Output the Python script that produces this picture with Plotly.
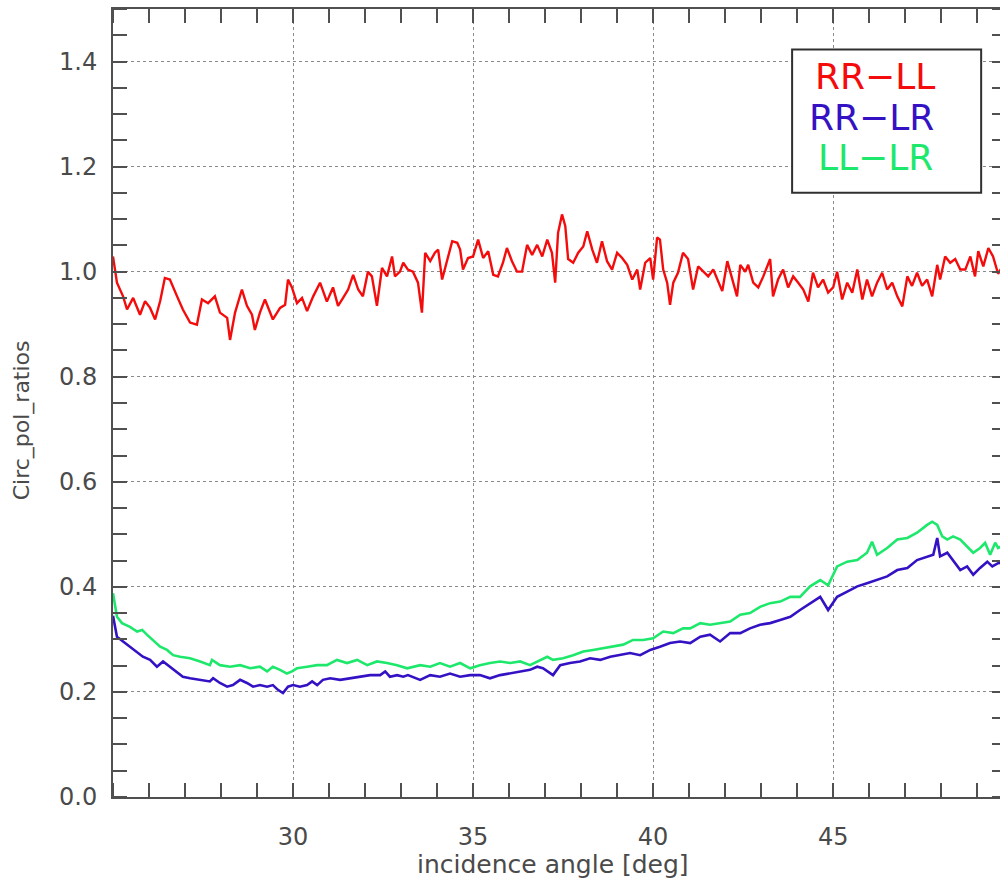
import plotly.graph_objects as go

# Incidence angle [deg] and circular-polarisation ratios for each channel pair
angle_rr_ll = [25.00, 25.11, 25.28, 25.39, 25.56, 25.75, 25.89, 26.03, 26.17, 26.31,
               26.44, 26.58, 26.78, 26.94, 27.14, 27.33, 27.47, 27.64, 27.83, 27.97,
               28.17, 28.25, 28.39, 28.58, 28.72, 28.86, 28.94, 29.08, 29.22, 29.36,
               29.44, 29.64, 29.78, 29.86, 29.97, 30.11, 30.25, 30.39, 30.56, 30.75,
               30.94, 31.11, 31.25, 31.39, 31.53, 31.67, 31.81, 31.94, 32.08, 32.19,
               32.33, 32.47, 32.61, 32.75, 32.83, 32.97, 33.06, 33.19, 33.33, 33.47,
               33.58, 33.67, 33.81, 33.94, 34.03, 34.14, 34.28, 34.42, 34.56, 34.64,
               34.72, 34.86, 35.00, 35.14, 35.28, 35.42, 35.56, 35.69, 35.83, 35.94,
               36.08, 36.22, 36.36, 36.50, 36.64, 36.78, 36.92, 37.06, 37.19, 37.28,
               37.36, 37.47, 37.56, 37.64, 37.78, 37.92, 38.06, 38.17, 38.31, 38.44,
               38.58, 38.72, 38.86, 39.00, 39.14, 39.28, 39.42, 39.56, 39.64, 39.78,
               39.92, 40.00, 40.11, 40.19, 40.28, 40.39, 40.47, 40.56, 40.69, 40.83,
               40.97, 41.11, 41.25, 41.39, 41.53, 41.67, 41.81, 41.92, 42.06, 42.19,
               42.33, 42.42, 42.56, 42.64, 42.78, 42.92, 43.06, 43.25, 43.33, 43.47,
               43.61, 43.75, 43.89, 44.03, 44.17, 44.31, 44.44, 44.58, 44.72, 44.86,
               45.00, 45.11, 45.25, 45.39, 45.53, 45.67, 45.81, 45.94, 46.08, 46.22,
               46.36, 46.50, 46.64, 46.78, 46.92, 47.06, 47.19, 47.33, 47.47, 47.61,
               47.75, 47.89, 47.97, 48.11, 48.25, 48.39, 48.53, 48.67, 48.81, 48.94,
               49.03, 49.17, 49.31, 49.44, 49.58, 49.75]
ratio_rr_ll = [1.029, 0.979, 0.953, 0.928, 0.950, 0.918, 0.944, 0.931, 0.909, 0.944,
               0.988, 0.985, 0.953, 0.928, 0.903, 0.899, 0.947, 0.940, 0.953, 0.922,
               0.912, 0.870, 0.922, 0.966, 0.935, 0.918, 0.889, 0.922, 0.947, 0.922,
               0.909, 0.931, 0.937, 0.985, 0.970, 0.940, 0.950, 0.925, 0.953, 0.979,
               0.943, 0.970, 0.935, 0.950, 0.966, 0.994, 0.966, 0.953, 1.000, 0.991,
               0.935, 1.007, 0.991, 1.029, 0.991, 1.000, 1.017, 1.004, 1.000, 0.979,
               0.922, 1.036, 1.020, 1.036, 1.042, 0.985, 1.024, 1.058, 1.055, 1.042,
               1.004, 1.026, 1.029, 1.061, 1.026, 1.039, 0.994, 0.991, 1.017, 1.045,
               1.020, 1.000, 1.000, 1.051, 1.032, 1.051, 1.029, 1.061, 1.036, 0.979,
               1.074, 1.109, 1.087, 1.024, 1.017, 1.036, 1.048, 1.077, 1.042, 1.017,
               1.058, 1.020, 1.004, 1.036, 1.026, 1.013, 0.985, 1.004, 0.966, 1.017,
               1.026, 0.985, 1.065, 1.061, 1.004, 0.979, 0.937, 0.979, 0.998, 1.036,
               1.024, 0.966, 1.010, 1.000, 0.991, 1.004, 0.979, 0.963, 1.020, 0.990,
               0.953, 1.013, 1.000, 1.013, 0.979, 0.970, 0.991, 1.024, 0.953, 0.985,
               1.004, 0.970, 0.991, 0.979, 0.966, 0.943, 0.998, 0.970, 0.985, 0.960,
               0.970, 1.000, 0.947, 0.979, 0.960, 1.004, 0.947, 0.985, 0.953, 0.979,
               0.998, 0.966, 0.979, 0.953, 0.934, 0.991, 0.973, 0.998, 0.973, 0.985,
               0.953, 1.013, 0.985, 1.029, 1.017, 1.024, 1.004, 1.004, 1.029, 0.991,
               1.039, 1.010, 1.045, 1.029, 0.996, 1.015]

angle_rr_lr = [25.00, 25.11, 25.28, 25.47, 25.67, 25.83, 26.03, 26.22, 26.39, 26.58,
               26.78, 26.94, 27.14, 27.42, 27.69, 27.78, 27.97, 28.17, 28.33, 28.53,
               28.72, 28.89, 29.08, 29.28, 29.44, 29.58, 29.72, 29.86, 30.00, 30.19,
               30.39, 30.53, 30.67, 30.83, 31.03, 31.31, 31.58, 31.86, 32.14, 32.42,
               32.56, 32.69, 32.89, 33.06, 33.19, 33.53, 33.81, 34.08, 34.36, 34.64,
               34.92, 35.19, 35.47, 35.75, 36.03, 36.31, 36.58, 36.78, 36.94, 37.22,
               37.42, 37.69, 37.97, 38.25, 38.53, 38.81, 39.08, 39.36, 39.64, 39.92,
               40.19, 40.47, 40.75, 41.03, 41.31, 41.58, 41.86, 42.14, 42.42, 42.69,
               42.97, 43.25, 43.53, 43.81, 44.08, 44.36, 44.64, 44.86, 45.11, 45.39,
               45.67, 45.94, 46.22, 46.50, 46.78, 47.06, 47.33, 47.61, 47.78, 47.89,
               47.97, 48.17, 48.33, 48.53, 48.72, 48.89, 49.08, 49.28, 49.42, 49.58,
               49.75]
ratio_rr_lr = [0.345, 0.305, 0.296, 0.286, 0.277, 0.267, 0.261, 0.248, 0.258, 0.248,
               0.239, 0.229, 0.226, 0.223, 0.220, 0.226, 0.217, 0.210, 0.213, 0.223,
               0.217, 0.210, 0.213, 0.210, 0.213, 0.204, 0.198, 0.210, 0.213, 0.210,
               0.213, 0.220, 0.213, 0.223, 0.226, 0.223, 0.226, 0.229, 0.232, 0.232,
               0.239, 0.229, 0.232, 0.229, 0.232, 0.223, 0.232, 0.229, 0.235, 0.229,
               0.232, 0.232, 0.226, 0.232, 0.235, 0.239, 0.242, 0.248, 0.245, 0.232,
               0.251, 0.255, 0.258, 0.264, 0.261, 0.267, 0.270, 0.274, 0.270, 0.280,
               0.286, 0.293, 0.296, 0.293, 0.305, 0.309, 0.296, 0.312, 0.312, 0.321,
               0.328, 0.331, 0.337, 0.343, 0.356, 0.369, 0.381, 0.356, 0.381, 0.391,
               0.401, 0.407, 0.413, 0.420, 0.432, 0.436, 0.451, 0.458, 0.461, 0.493,
               0.458, 0.465, 0.451, 0.432, 0.439, 0.423, 0.436, 0.448, 0.439, 0.445,
               0.447]

angle_ll_lr = [25.00, 25.11, 25.25, 25.47, 25.67, 25.81, 25.94, 26.11, 26.31, 26.50,
               26.67, 26.86, 27.14, 27.42, 27.69, 27.75, 27.97, 28.25, 28.53, 28.81,
               29.08, 29.28, 29.44, 29.64, 29.83, 29.97, 30.11, 30.39, 30.67, 30.94,
               31.22, 31.50, 31.78, 32.06, 32.33, 32.61, 32.89, 33.17, 33.53, 33.81,
               34.08, 34.36, 34.64, 34.92, 35.19, 35.47, 35.75, 36.03, 36.31, 36.58,
               36.86, 37.06, 37.22, 37.50, 37.78, 38.06, 38.33, 38.61, 38.89, 39.17,
               39.44, 39.72, 40.00, 40.28, 40.56, 40.83, 41.03, 41.31, 41.58, 41.86,
               42.14, 42.42, 42.69, 42.97, 43.25, 43.53, 43.81, 44.08, 44.36, 44.64,
               44.86, 45.11, 45.39, 45.67, 45.94, 46.08, 46.22, 46.50, 46.78, 47.06,
               47.33, 47.61, 47.75, 47.89, 48.03, 48.17, 48.33, 48.53, 48.72, 48.89,
               49.08, 49.22, 49.36, 49.50, 49.58, 49.75]
ratio_ll_lr = [0.388, 0.343, 0.331, 0.324, 0.315, 0.318, 0.309, 0.299, 0.286, 0.280,
               0.270, 0.267, 0.264, 0.258, 0.251, 0.261, 0.251, 0.248, 0.251, 0.245,
               0.248, 0.239, 0.248, 0.242, 0.235, 0.239, 0.245, 0.248, 0.251, 0.251,
               0.261, 0.255, 0.261, 0.251, 0.258, 0.255, 0.251, 0.245, 0.251, 0.248,
               0.255, 0.248, 0.255, 0.245, 0.251, 0.255, 0.258, 0.255, 0.258, 0.251,
               0.261, 0.267, 0.261, 0.264, 0.270, 0.277, 0.280, 0.283, 0.286, 0.290,
               0.299, 0.299, 0.302, 0.315, 0.312, 0.321, 0.321, 0.331, 0.328, 0.331,
               0.334, 0.347, 0.350, 0.362, 0.369, 0.372, 0.381, 0.381, 0.401, 0.413,
               0.403, 0.439, 0.448, 0.451, 0.465, 0.486, 0.461, 0.474, 0.490, 0.493,
               0.503, 0.518, 0.524, 0.518, 0.496, 0.490, 0.496, 0.490, 0.477, 0.465,
               0.474, 0.484, 0.461, 0.484, 0.474, 0.480]

x_ticks = [30, 35, 40, 45]
y_ticks = [0.0, 0.2, 0.4, 0.6, 0.8, 1.0, 1.2, 1.4]
y_tick_labels = ["0.0", "0.2", "0.4", "0.6", "0.8", "1.0", "1.2", "1.4"]

RED = "#f40c0c"
BLUE = "#3412c4"
GREEN = "#1ee86c"
AXIS = "#505050"
TEXT = "#4a4a4a"
FONT = "DejaVu Sans"

fig = go.Figure()
fig.add_trace(go.Scatter(x=angle_ll_lr, y=ratio_ll_lr, mode="lines",
                         line=dict(color=GREEN, width=2.6), name="LL−LR"))
fig.add_trace(go.Scatter(x=angle_rr_lr, y=ratio_rr_lr, mode="lines",
                         line=dict(color=BLUE, width=2.6), name="RR−LR"))
fig.add_trace(go.Scatter(x=angle_rr_ll, y=ratio_rr_ll, mode="lines",
                         line=dict(color=RED, width=2.4), name="RR−LL"))

axis_common = dict(
    showline=True, linecolor=AXIS, linewidth=2, mirror="ticks",
    ticks="", showgrid=True, gridcolor="#8a8a8a", gridwidth=1.3, griddash="dot",
    zeroline=False, tickfont=dict(family=FONT, size=24, color=TEXT),
)

fig.update_xaxes(
    range=[25, 49.8], tickmode="array", tickvals=x_ticks,
    ticklabelstandoff=17,
    minor=dict(tickmode="linear", tick0=25, dtick=1, ticks="inside",
               ticklen=14, tickwidth=2, tickcolor=AXIS, showgrid=False),
    **axis_common,
)
fig.update_yaxes(
    range=[0, 1.5], tickmode="array", tickvals=y_ticks, ticktext=y_tick_labels,
    ticklabelstandoff=9,
    minor=dict(tickmode="linear", tick0=0.05, dtick=0.05, ticks="inside",
               ticklen=14, tickwidth=2, tickcolor=AXIS, showgrid=False),
    **axis_common,
)

# Legend box with coloured labels
fig.add_shape(type="rect", xref="x", yref="y", x0=43.86, x1=49.11, y0=1.150, y1=1.423,
              line=dict(color="#303030", width=2), fillcolor="white", layer="above")
for label, color, xc, yc in [("RR−LL", RED, 46.17, 1.371),
                             ("RR−LR", BLUE, 46.07, 1.293),
                             ("LL−LR", GREEN, 46.17, 1.217)]:
    fig.add_annotation(x=xc, y=yc, xref="x", yref="y", text=label, showarrow=False,
                       font=dict(family=FONT, size=36, color=color),
                       xanchor="center", yanchor="middle")

# Axis titles
fig.add_annotation(x=0.4927, y=0, xref="paper", yref="paper", yshift=-67,
                   text="incidence angle [deg]", showarrow=False,
                   font=dict(family=FONT, size=25, color=TEXT),
                   xanchor="center", yanchor="middle")
fig.add_annotation(x=0, y=0.478, xref="paper", yref="paper", xshift=-91,
                   text="Circ_pol_ratios", showarrow=False, textangle=-90,
                   font=dict(family=FONT, size=22, color=TEXT),
                   xanchor="center", yanchor="middle")

fig.update_layout(
    width=1008, height=886,
    margin=dict(l=113, r=2, t=9, b=89, autoexpand=False),
    paper_bgcolor="white", plot_bgcolor="white",
    showlegend=False,
)

fig.write_html(
    "out.html",
    post_script=("document.documentElement.style.overflow='hidden';"
                 "document.body.style.overflow='hidden';"
                 "document.body.style.margin='0';"),
)
